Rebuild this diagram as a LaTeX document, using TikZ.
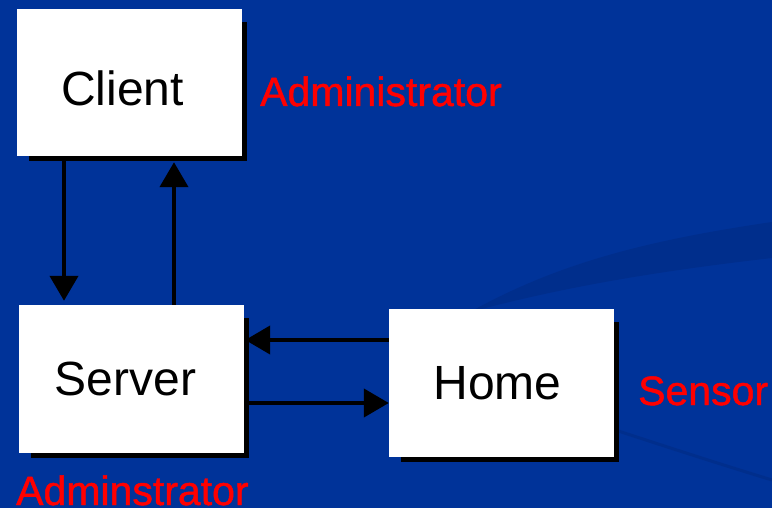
\documentclass[tikz,border=0pt]{standalone}
\usepackage{fontspec}
\setmainfont{Liberation Sans}
\newfontfamily\redfont[FakeBold=1.2]{Liberation Sans}
\usetikzlibrary{arrows.meta}
\pgfdeclarelayer{bg}
\pgfdeclarelayer{shadowlayer}
\pgfsetlayers{bg,shadowlayer,main}
\definecolor{slideblue}{RGB}{0,51,153}
\definecolor{swoosh}{RGB}{0,46,140}
\definecolor{labelred}{RGB}{255,0,0}
\tikzset{
  box/.style={fill=white, draw=none, minimum width=225pt, minimum height=148pt, inner sep=0pt,
    font=\fontsize{48}{56}\selectfont, text=black},
  redlabel/.style={text=labelred, font=\redfont\fontsize{41}{48}\selectfont, inner sep=0pt, anchor=base west},
  arr/.style={line width=4.3pt, -{Triangle[width=28pt,length=25pt]}},
  shadowfill/.style={fill=black, draw=none}
}
\begin{document}
\begin{tikzpicture}[x=1pt,y=-1pt]
\useasboundingbox (0,0) rectangle (772,508);
\begin{pgfonlayer}{bg}
\fill[slideblue] (0,0) rectangle (772,508);
\fill[swoosh] (470,312) .. controls (560,262) and (650,240) .. (772,222)
  -- (772,258) .. controls (650,272) and (560,288) .. (470,312) -- cycle;
\draw[swoosh, line width=3pt] (560,412) .. controls (640,438) and (700,458) .. (772,480);
\end{pgfonlayer}

\node[box, minimum height=147pt] (client) at (129.5,82.5) {\raisebox{-23.5pt}[0pt][0pt]{\hspace*{-14pt}Client}};
\node[box] (server) at (131.5,379) {\hspace*{-12pt}Server};
\node[box] (home) at (501.5,383) {\hspace*{-8pt}Home};

\begin{pgfonlayer}{shadowlayer}
\foreach \n in {client,server,home}{
  \fill[shadowfill] ([shift={(12pt,-13pt)}]\n.north west) rectangle ([shift={(4.5pt,-4.5pt)}]\n.south east);
}
\end{pgfonlayer}

\node[redlabel] (lblclient) at (260,106) {Administrator};
\node[redlabel] (lblhome) at (638,405) {Sensor};
\node[redlabel] (lblserver) at (16,505) {Adminstrator};

\draw[arr] ([xshift=-65.5pt,yshift=-4pt]client.south) -- ([xshift=-67.5pt,yshift=4pt]server.north);
\draw[arr] ([xshift=42.5pt]server.north) -- ([xshift=44.5pt,yshift=-6pt]client.south);
\draw[arr] ([yshift=43pt]home.west) -- ([xshift=1pt,yshift=39pt]server.east);
\draw[arr] ([xshift=4pt,yshift=-24pt]server.east) -- ([yshift=-20pt]home.west);
\end{tikzpicture}
\end{document}
